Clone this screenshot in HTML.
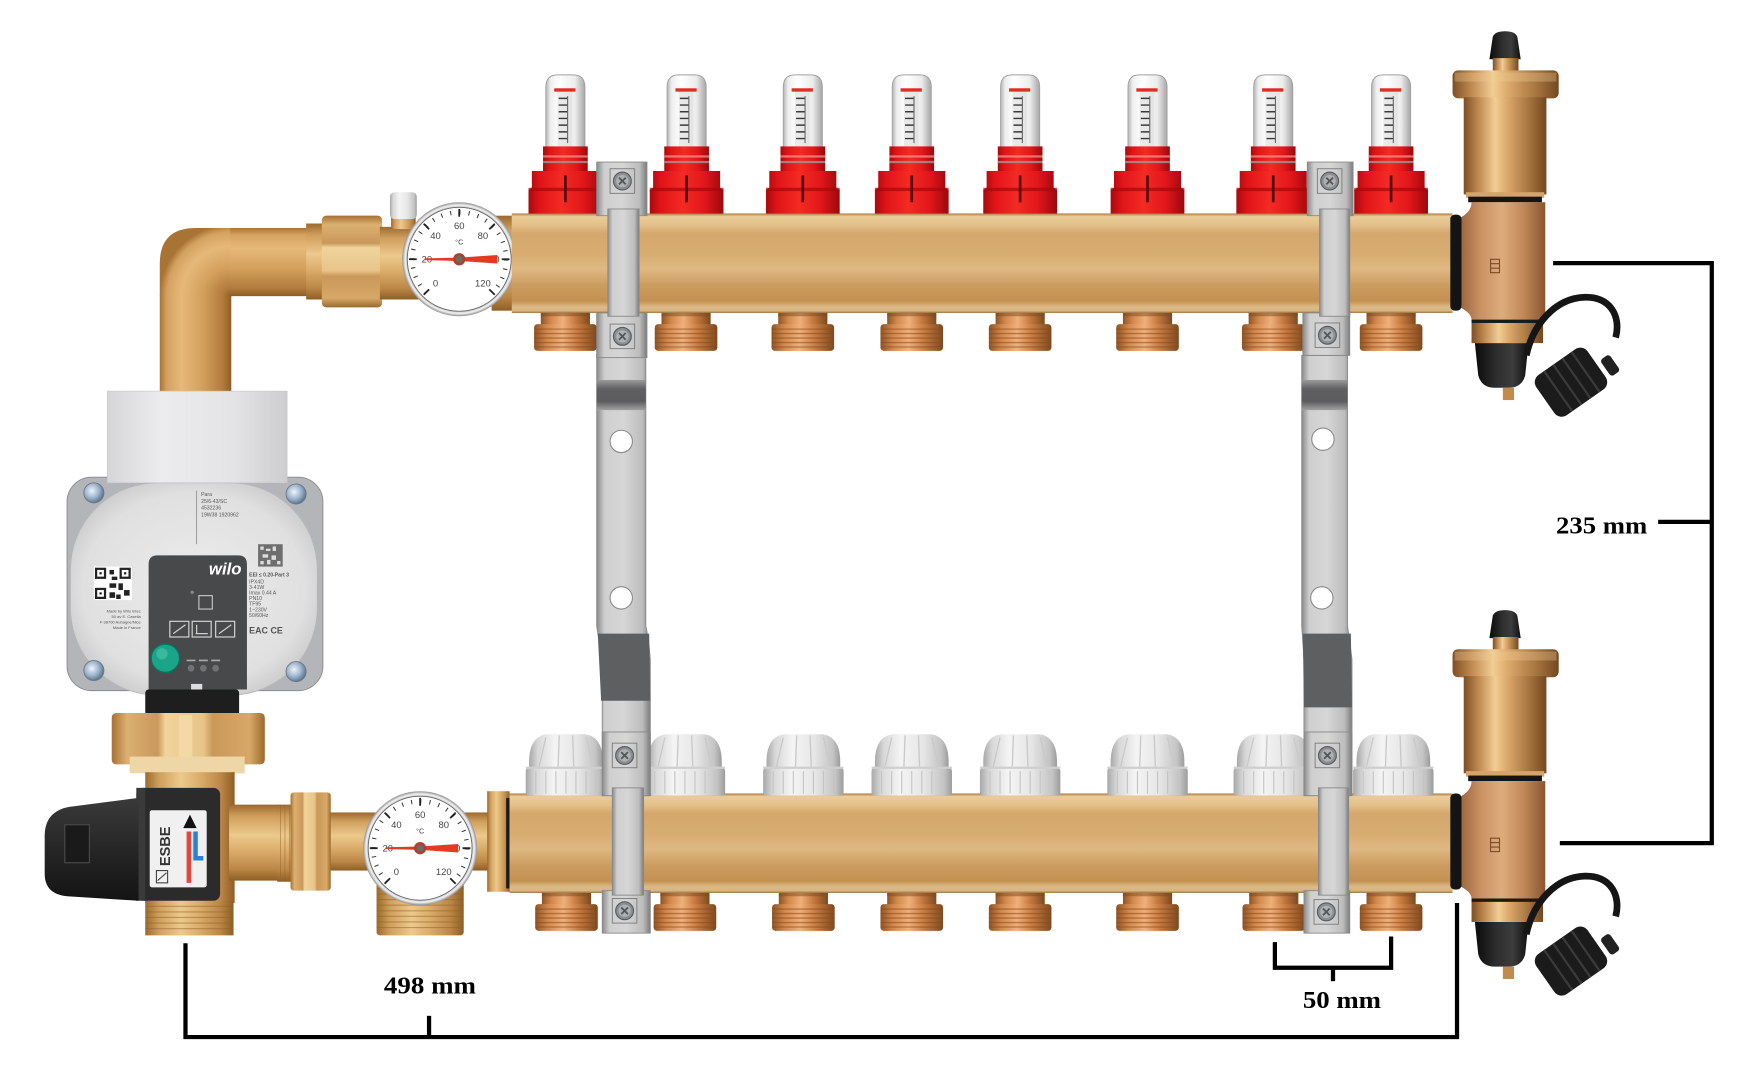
<!DOCTYPE html>
<html><head><meta charset="utf-8"><style>html,body{margin:0;padding:0;background:#fff;overflow:hidden}svg{display:block}</style></head>
<body>
<svg xmlns="http://www.w3.org/2000/svg" width="1752" height="1084" viewBox="0 0 1568 970" preserveAspectRatio="none">
<defs>
<linearGradient id="barG" x1="0" y1="0" x2="0" y2="1">
<stop offset="0" stop-color="#a9783e"/><stop offset="0.03" stop-color="#ebcd9a"/><stop offset="0.12" stop-color="#e3bf89"/><stop offset="0.2" stop-color="#d4a86c"/><stop offset="0.42" stop-color="#d8ad72"/><stop offset="0.56" stop-color="#dfb882"/><stop offset="0.72" stop-color="#cc9d60"/><stop offset="0.88" stop-color="#c39152"/><stop offset="0.94" stop-color="#dcbb88"/><stop offset="0.98" stop-color="#d8b480"/><stop offset="1" stop-color="#94682e"/>
</linearGradient>
<linearGradient id="redG" x1="0" y1="0" x2="1" y2="0">
<stop offset="0" stop-color="#a80a0e"/><stop offset="0.15" stop-color="#e01418"/><stop offset="0.45" stop-color="#f42a24"/><stop offset="0.75" stop-color="#e0161a"/><stop offset="1" stop-color="#9c080c"/>
</linearGradient>
<linearGradient id="tubeG" x1="0" y1="0" x2="1" y2="0">
<stop offset="0" stop-color="#b4b4b4"/><stop offset="0.12" stop-color="#eeeeee"/><stop offset="0.35" stop-color="#ffffff"/><stop offset="0.75" stop-color="#ececec"/><stop offset="1" stop-color="#a6a6a6"/>
</linearGradient>
<linearGradient id="outG" x1="0" y1="0" x2="1" y2="0">
<stop offset="0" stop-color="#8e5424"/><stop offset="0.2" stop-color="#d2884c"/><stop offset="0.45" stop-color="#f0b07a"/><stop offset="0.7" stop-color="#c67a40"/><stop offset="1" stop-color="#7e4a1e"/>
</linearGradient>
<linearGradient id="capG" x1="0" y1="0" x2="1" y2="0">
<stop offset="0" stop-color="#a8a8a8"/><stop offset="0.12" stop-color="#d8d8d8"/><stop offset="0.35" stop-color="#f4f4f4"/><stop offset="0.65" stop-color="#e6e6e6"/><stop offset="0.9" stop-color="#c4c4c4"/><stop offset="1" stop-color="#9c9c9c"/>
</linearGradient>
<linearGradient id="steelG" x1="0" y1="0" x2="1" y2="0">
<stop offset="0" stop-color="#8a8a8a"/><stop offset="0.15" stop-color="#cfcfcf"/><stop offset="0.5" stop-color="#d6d6d6"/><stop offset="0.85" stop-color="#bdbdbd"/><stop offset="1" stop-color="#7c7c7c"/>
</linearGradient>
<linearGradient id="darkG" x1="0" y1="0" x2="0" y2="1">
<stop offset="0" stop-color="#9a9a9a"/><stop offset="0.3" stop-color="#606062"/><stop offset="0.7" stop-color="#5c5c5e"/><stop offset="1" stop-color="#a0a0a0"/>
</linearGradient>
<linearGradient id="brassV" x1="0" y1="0" x2="0" y2="1">
<stop offset="0" stop-color="#9a6a2e"/><stop offset="0.15" stop-color="#cf9e5c"/><stop offset="0.4" stop-color="#ecc98c"/><stop offset="0.6" stop-color="#dcae6c"/><stop offset="0.85" stop-color="#bb8646"/><stop offset="1" stop-color="#8e5e24"/>
</linearGradient>
<linearGradient id="brassH" x1="0" y1="0" x2="1" y2="0">
<stop offset="0" stop-color="#9a6a2e"/><stop offset="0.15" stop-color="#cf9e5c"/><stop offset="0.4" stop-color="#ecc98c"/><stop offset="0.6" stop-color="#dcae6c"/><stop offset="0.85" stop-color="#bb8646"/><stop offset="1" stop-color="#8e5e24"/>
</linearGradient>
<linearGradient id="nutV" x1="0" y1="0" x2="0" y2="1">
<stop offset="0" stop-color="#a57236"/><stop offset="0.1" stop-color="#dcb070"/><stop offset="0.3" stop-color="#c9985a"/><stop offset="0.35" stop-color="#f0d49c"/><stop offset="0.6" stop-color="#e8c488"/><stop offset="0.66" stop-color="#c9985a"/><stop offset="0.9" stop-color="#d8a868"/><stop offset="1" stop-color="#9a6a2e"/>
</linearGradient>
<linearGradient id="nutH" x1="0" y1="0" x2="1" y2="0">
<stop offset="0" stop-color="#a57236"/><stop offset="0.1" stop-color="#dcb070"/><stop offset="0.3" stop-color="#c9985a"/><stop offset="0.35" stop-color="#f0d49c"/><stop offset="0.6" stop-color="#e8c488"/><stop offset="0.66" stop-color="#c9985a"/><stop offset="0.9" stop-color="#d8a868"/><stop offset="1" stop-color="#9a6a2e"/>
</linearGradient>
<linearGradient id="bronzeH" x1="0" y1="0" x2="1" y2="0">
<stop offset="0" stop-color="#94603a"/><stop offset="0.25" stop-color="#c99062"/><stop offset="0.5" stop-color="#deac7c"/><stop offset="0.75" stop-color="#c18858"/><stop offset="1" stop-color="#8a5630"/>
</linearGradient>
<linearGradient id="ventH" x1="0" y1="0" x2="1" y2="0">
<stop offset="0" stop-color="#7e4f24"/><stop offset="0.18" stop-color="#c08a52"/><stop offset="0.38" stop-color="#f2cd94"/><stop offset="0.52" stop-color="#dcaa6c"/><stop offset="0.78" stop-color="#a87640"/><stop offset="1" stop-color="#744820"/>
</linearGradient>
<linearGradient id="blackG" x1="0" y1="0" x2="1" y2="0">
<stop offset="0" stop-color="#0a0a0a"/><stop offset="0.4" stop-color="#2e2e2e"/><stop offset="0.7" stop-color="#3c3c3c"/><stop offset="1" stop-color="#101010"/>
</linearGradient>
<radialGradient id="bezel" cx="0.5" cy="0.5" r="0.5">
<stop offset="0" stop-color="#ffffff"/><stop offset="0.86" stop-color="#f6f6f6"/><stop offset="0.9" stop-color="#b5b5b5"/><stop offset="0.95" stop-color="#f2f2f2"/><stop offset="1" stop-color="#8e8e8e"/>
</radialGradient>
<radialGradient id="faceP" cx="0.5" cy="0.5" r="0.6">
<stop offset="0" stop-color="#ececec"/><stop offset="0.75" stop-color="#e0e0e0"/><stop offset="1" stop-color="#c4c4c4"/>
</radialGradient>
<linearGradient id="boxG" x1="0" y1="0" x2="1" y2="0">
<stop offset="0" stop-color="#d6d6d8"/><stop offset="0.3" stop-color="#ececee"/><stop offset="0.7" stop-color="#e4e4e6"/><stop offset="1" stop-color="#cdcdcf"/>
</linearGradient>
<radialGradient id="screwG" cx="0.4" cy="0.4" r="0.6">
<stop offset="0" stop-color="#eef4fa"/><stop offset="0.6" stop-color="#9bb3cc"/><stop offset="1" stop-color="#5e7890"/>
</radialGradient>
<linearGradient id="knobG" x1="0" y1="0" x2="0" y2="1">
<stop offset="0" stop-color="#3a3a3a"/><stop offset="0.5" stop-color="#262626"/><stop offset="1" stop-color="#141414"/>
</linearGradient>
<radialGradient id="elbR" gradientUnits="userSpaceOnUse" cx="207" cy="265" r="64">
<stop offset="0" stop-color="#8e5e26"/><stop offset="0.12" stop-color="#b27c3c"/><stop offset="0.4" stop-color="#d3a05c"/><stop offset="0.7" stop-color="#e6b978"/><stop offset="0.9" stop-color="#d4a260"/><stop offset="1" stop-color="#a87436"/>
</radialGradient>
<linearGradient id="elbV" gradientUnits="userSpaceOnUse" x1="207" y1="0" x2="143" y2="0">
<stop offset="0" stop-color="#8e5e26"/><stop offset="0.12" stop-color="#b27c3c"/><stop offset="0.4" stop-color="#d3a05c"/><stop offset="0.7" stop-color="#e6b978"/><stop offset="0.9" stop-color="#d4a260"/><stop offset="1" stop-color="#a87436"/>
</linearGradient>
<linearGradient id="elbH" gradientUnits="userSpaceOnUse" x1="0" y1="265" x2="0" y2="204">
<stop offset="0" stop-color="#8e5e26"/><stop offset="0.12" stop-color="#b27c3c"/><stop offset="0.4" stop-color="#d3a05c"/><stop offset="0.7" stop-color="#e6b978"/><stop offset="0.9" stop-color="#d4a260"/><stop offset="1" stop-color="#a87436"/>
</linearGradient>

<g id="fm">
 <path d="M-17.5,137 V78 Q-17.5,67 -7,67 H7 Q17.5,67 17.5,78 V137 Z" fill="url(#tubeG)" stroke="#a0a0a0" stroke-width="0.8"/>
 <rect x="-7" y="80" width="13" height="52" fill="#dcdcdc" opacity="0.6"/>
 <rect x="-10" y="79" width="19" height="3" fill="#e52a22"/>
 <path d="M-6,88 h8 M-6,94 h8 M-6,100 h8 M-6,106 h8 M-6,112 h8 M-6,118 h8 M-6,124 h8" stroke="#3a3a3a" stroke-width="1.3"/>
 <path d="M2,86 V128" stroke="#666" stroke-width="1"/>
 <rect x="-20" y="131" width="40" height="23" fill="url(#redG)"/>
 <rect x="-20" y="139" width="40" height="2" fill="#ff9a90" opacity="0.7"/>
 <rect x="-20" y="144" width="40" height="2" fill="#9a9a9a" opacity="0.8"/>
 <path d="M-30,153 H30 V168 L33,170 V191 H-33 V170 L-30,168 Z" fill="url(#redG)"/>
 <rect x="-33" y="168" width="66" height="3" fill="#a5080c" opacity="0.7"/>
 <rect x="-1.2" y="157" width="2.4" height="24" fill="#5a0505"/>
</g>
<g id="out">
 <rect x="-22" y="0" width="44" height="11" fill="url(#outG)"/>
 <rect x="-22" y="0" width="44" height="3" fill="#7a4a20" opacity="0.5"/>
 <rect x="-28" y="10" width="56" height="24" rx="3" fill="url(#outG)"/>
 <path d="M-28,14.5 H28 M-28,18.5 H28 M-28,22.5 H28 M-28,26.5 H28 M-28,30.5 H28" stroke="#8a4a1c" stroke-width="1.2" opacity="0.55"/>
</g>
<g id="cap">
 <path d="M-33,40 V26 Q-33,3 -17,1 H17 Q33,3 33,26 V40 Z" fill="url(#capG)"/>
 <path d="M-18,4 L-24,30 M-6,2 L-7,30 M6,2 L7,30 M18,4 L24,30" stroke="#c9c9c9" stroke-width="1.2" fill="none"/>
 <rect x="-36" y="31" width="72" height="25" rx="3" fill="url(#capG)"/>
 <path d="M-27,34 V54 M-18,34 V54 M-9,34 V54 M0,34 V54 M9,34 V54 M18,34 V54 M27,34 V54" stroke="#c4c4c4" stroke-width="1"/>
 <rect x="-36" y="30" width="72" height="2" fill="#cfcfcf"/>
</g>
<g id="screw">
 <rect x="-11" y="-11" width="22" height="22" fill="none" stroke="#7a7a7a" stroke-width="0.8"/>
 <circle r="8" fill="#8b8d90" stroke="#5a5a5a" stroke-width="1"/>
 <circle r="5.5" fill="#aeb0b3"/>
 <path d="M-3,-3 L3,3 M-3,3 L3,-3" stroke="#555" stroke-width="1.6"/>
</g>
<g id="rt">
 <path d="M1333,53 L1336,33 Q1338,28 1347,28 Q1356,28 1358,33 L1361,53 Z" fill="url(#blackG)"/>
 <rect x="1336" y="52" width="23" height="12" fill="url(#ventH)"/>
 <rect x="1300" y="63" width="95" height="25" rx="5" fill="url(#ventH)"/>
 <rect x="1302" y="65" width="91" height="8" fill="#f0cc96" opacity="0.35"/>
 <rect x="1310" y="87" width="74" height="87" fill="url(#ventH)"/>
 <rect x="1312" y="172" width="70" height="5" fill="#d6a468"/>
 <rect x="1314" y="176" width="66" height="5" fill="#141414"/>
 <path d="M1305,196 Q1317,190 1317,181 H1383 V286 H1317 Q1317,280 1305,274 Z" fill="url(#bronzeH)"/>
 <rect x="1298" y="192" width="10" height="86" rx="4" fill="#141414"/>
 <path d="M1334,232 h8 v12 h-8 z M1334,236 h8 M1334,240 h8" stroke="#7a4c28" stroke-width="1" fill="none"/>
 <rect x="1317" y="286" width="64" height="21" fill="url(#ventH)"/>
 <rect x="1317" y="286" width="64" height="3" fill="#1a1a1a"/>
 <path d="M1320,307 H1368 L1365,336 Q1362,347 1350,347 H1338 Q1326,347 1323,336 Z" fill="url(#blackG)"/>
 <rect x="1345" y="347" width="10" height="11" fill="#c48a4c"/>
 <path d="M1366,318 C1372,290 1392,267 1418,266 C1441,265 1451,283 1446,302" fill="none" stroke="#151515" stroke-width="6"/>
 <g transform="translate(1406,342) rotate(-35)">
  <rect x="-28" y="-22" width="56" height="44" rx="8" fill="#1b1b1b"/>
  <path d="M-14,-22 V22 M-4,-22 V22 M6,-22 V22 M16,-22 V22" stroke="#3a3a3a" stroke-width="2"/>
 </g>
 <rect x="1436" y="318" width="10" height="18" rx="3" fill="#222" transform="rotate(-35 1441 327)"/>
</g>
</defs>

<rect x="0" y="0" width="1568" height="970" fill="#ffffff"/>

<!-- LEFT ELBOW + TOP SUPPLY -->
<rect x="143" y="264" width="64" height="88" fill="url(#elbV)"/>
<path d="M143,265 L143,236 Q143,204 175,204 L207,204 L207,265 Z" fill="url(#elbR)"/>
<rect x="206" y="204" width="72" height="61" fill="url(#elbH)"/>
<rect x="274" y="200" width="18" height="68" fill="url(#brassV)"/>
<rect x="288" y="193" width="54" height="82" rx="4" fill="url(#nutV)"/>
<rect x="340" y="203" width="102" height="65" fill="url(#brassV)"/>
<rect x="350" y="193" width="22" height="12" fill="url(#brassH)"/>
<rect x="349" y="172" width="24" height="24" rx="4" fill="url(#capG)"/>
<rect x="440" y="193" width="20" height="85" fill="url(#brassV)"/>

<!-- TOP GAUGE -->
<g transform="translate(411,232)">
 <circle r="51" fill="url(#bezel)"/>
 <circle r="46.5" fill="#fff" stroke="#666" stroke-width="0.8"/>
 <circle r="42" fill="none" stroke="#333" stroke-width="4" stroke-dasharray="0.9 7.3467" transform="rotate(135)"/>
 <path d="M0,0 L32.5,32.5 A46,46 0 0 1 -32.5,32.5 Z" fill="#fff"/>
 <path d="M-26.9,26.9 L-31.8,31.8 M-38,0 L-45,0 M-26.9,-26.9 L-31.8,-31.8 M0,-38 L0,-45 M26.9,-26.9 L31.8,-31.8 M38,0 L45,0 M26.9,26.9 L31.8,31.8" stroke="#222" stroke-width="1.6"/>
 <g font-family="Liberation Sans, sans-serif" font-size="8.5" fill="#444" text-anchor="middle">
  <text x="-21.2" y="24.2">0</text><text x="-29" y="3">20</text><text x="-21.2" y="-18.2">40</text><text x="0" y="-27">60</text><text x="21.2" y="-18.2">80</text><text x="29" y="3">100</text><text x="21.2" y="24.2">120</text>
  <text x="0" y="-13" font-size="6.5">°C</text>
 </g>
 <polygon points="-31,-0.8 0,-1.5 34,-3.8 34,3.8 0,1.5 -31,0.8" fill="#e33a22"/>
 <circle r="5.5" fill="#a8432f"/><circle r="3" fill="#6b6b6b"/>
</g>

<!-- PUMP -->
<rect x="60" y="427" width="229" height="191" rx="22" fill="#b4b5b8" stroke="#8a8a8a" stroke-width="0.8"/>
<rect x="63" y="432" width="221" height="190" rx="78" fill="url(#faceP)" stroke="#b8b8b8" stroke-width="0.8"/>
<rect x="96" y="350" width="161" height="82" fill="url(#boxG)" stroke="#c8c8ca" stroke-width="0.6"/>
<circle cx="84" cy="441" r="9" fill="url(#screwG)" stroke="#6a7888" stroke-width="0.8"/>
<circle cx="265" cy="442" r="9" fill="url(#screwG)" stroke="#6a7888" stroke-width="0.8"/>
<circle cx="84" cy="600" r="9" fill="url(#screwG)" stroke="#6a7888" stroke-width="0.8"/>
<circle cx="265" cy="601" r="9" fill="url(#screwG)" stroke="#6a7888" stroke-width="0.8"/>
<path d="M176,439 V487" stroke="#888" stroke-width="0.7"/>
<g font-family="Liberation Sans, sans-serif" font-size="4.6" fill="#555">
 <text x="180" y="444">Para</text><text x="180" y="450">25/6-43/SC</text><text x="180" y="456">4532236</text><text x="180" y="462">19W38 1920962</text>
 <text x="223" y="516" font-weight="bold">EEI ≤ 0.20-Part 3</text>
 <text x="223" y="522">IPX4D</text><text x="223" y="527">3-41W</text><text x="223" y="532">Imax 0.44 A</text><text x="223" y="537">PN10</text><text x="223" y="542">TF95</text><text x="223" y="547">1~230V</text><text x="223" y="552">50/60Hz</text>
 <text x="223" y="567" font-size="8" font-weight="bold">EAC CE</text>
 <g text-anchor="end" font-size="3.6"><text x="126" y="548">Made by Wilo Intec</text><text x="126" y="553">50 av E. Casella</text><text x="126" y="558">F-38700 Aubagne/Nice</text><text x="126" y="563">Made in France</text></g>
</g>
<rect x="84" y="507" width="34" height="30" fill="#fff"/>
<g fill="#222">
 <rect x="85" y="508" width="10" height="10"/><rect x="107" y="508" width="10" height="10"/><rect x="85" y="526" width="10" height="10"/>
 <rect x="98" y="510" width="4" height="4"/><rect x="100" y="516" width="5" height="3"/><rect x="98" y="522" width="6" height="4"/><rect x="106" y="522" width="4" height="6"/><rect x="111" y="528" width="5" height="5"/><rect x="98" y="530" width="5" height="5"/><rect x="104" y="532" width="4" height="4"/>
</g>
<g fill="#fff"><rect x="87" y="510" width="6" height="6"/><rect x="109" y="510" width="6" height="6"/><rect x="87" y="528" width="6" height="6"/></g>
<g fill="#222"><rect x="89" y="512" width="2" height="2"/><rect x="111" y="512" width="2" height="2"/><rect x="89" y="530" width="2" height="2"/></g>
<rect x="231" y="487" width="22" height="20" fill="#6e6e6e"/>
<g fill="#ddd"><rect x="233" y="489" width="3" height="3"/><rect x="238" y="491" width="4" height="2"/><rect x="244" y="489" width="3" height="4"/><rect x="235" y="496" width="5" height="3"/><rect x="243" y="497" width="4" height="4"/><rect x="233" y="502" width="3" height="3"/><rect x="239" y="501" width="3" height="4"/><rect x="248" y="502" width="3" height="3"/></g>
<path d="M133,505 Q133,497 141,497 L213,497 Q221,497 221,505 L221,617 L133,617 Z" fill="#47494b"/>
<text x="187" y="514" font-family="Liberation Sans, sans-serif" font-style="italic" font-weight="bold" font-size="15" fill="#fff">wilo</text>
<rect x="178" y="533" width="12" height="12" fill="none" stroke="#c8c8c8" stroke-width="1"/>
<circle cx="172" cy="530" r="1.5" fill="#888"/>
<g fill="none" stroke="#cfcfcf" stroke-width="1.1">
 <rect x="152" y="556" width="17" height="14"/><rect x="172" y="556" width="17" height="14"/><rect x="193" y="556" width="17" height="14"/>
 <path d="M155,567 L166,559 M175,567 H186 M176,559 V567 M196,567 L207,559"/>
</g>
<circle cx="148" cy="589" r="12.7" fill="#1aa58a" stroke="#0e6f5c" stroke-width="1.2"/>
<circle cx="145" cy="585" r="5" fill="#4cc4aa" opacity="0.6"/>
<g fill="#707274"><circle cx="171" cy="598" r="3"/><circle cx="182" cy="598" r="3"/><circle cx="193" cy="598" r="3"/></g>
<path d="M167,591 h8 M178,591 h8 M189,591 h8" stroke="#aaa" stroke-width="1.5"/>
<rect x="171" y="612" width="10" height="5" fill="#dcdcdc"/>

<!-- BELOW PUMP / MIXING VALVE -->
<rect x="130" y="617" width="84" height="23" rx="3" fill="#1e1e1e"/>
<rect x="100" y="638" width="137" height="46" rx="4" fill="url(#nutH)"/>
<rect x="160" y="640" width="12" height="43" fill="#f5dcaa" opacity="0.8"/>
<rect x="116" y="677" width="103" height="15" fill="#eed6a6"/>
<rect x="130" y="691" width="80" height="117" fill="url(#brassH)"/>
<rect x="205" y="720" width="45" height="68" fill="url(#brassV)"/>
<rect x="130" y="806" width="79" height="31" fill="url(#brassH)"/>
<path d="M130,811 H209 M130,816 H209 M130,821 H209 M130,826 H209 M130,831 H209" stroke="#8e6226" stroke-width="1" opacity="0.5"/>
<rect x="122" y="705" width="75" height="101" rx="6" fill="#2b2b2b"/>
<rect x="122" y="705" width="8" height="101" fill="#3a3a3a"/>
<path d="M124,714 L62,722 Q40,726 40,748 L40,782 Q40,800 60,802 L124,806 Z" fill="url(#knobG)"/>
<rect x="58" y="738" width="22" height="34" fill="#1a1a1a" stroke="#4a4a4a" stroke-width="1"/>
<rect x="134" y="725" width="51" height="69" rx="2" fill="#f0f0f0"/>
<text transform="translate(152,775) rotate(-90)" font-family="Liberation Sans, sans-serif" font-weight="bold" font-size="13" fill="#333">ESBE</text>
<rect x="140" y="779" width="10" height="11" fill="none" stroke="#444" stroke-width="1"/>
<path d="M141,788 L149,781" stroke="#444" stroke-width="1"/>
<polygon points="170,729 164,741 176,741" fill="#111"/>
<path d="M169,744 V790" stroke="#e2463c" stroke-width="4"/>
<path d="M175,744 V768 H182" stroke="#2a80d2" stroke-width="4" fill="none"/>

<!-- BOTTOM SUPPLY PIPE -->
<rect x="248" y="727" width="192" height="52" fill="url(#brassV)"/>
<rect x="248" y="720" width="14" height="69" fill="url(#brassV)"/>
<path d="M251,720 V789 M255,720 V789 M259,720 V789" stroke="#8e6226" stroke-width="0.8" opacity="0.5"/>
<rect x="260" y="709" width="36" height="88" rx="3" fill="url(#nutH)"/>
<rect x="337" y="788" width="78" height="49" rx="3" fill="url(#brassH)"/>
<path d="M337,795 H415 M337,800 H415 M337,805 H415 M337,810 H415 M337,815 H415 M337,820 H415 M337,825 H415 M337,830 H415" stroke="#8e6226" stroke-width="1" opacity="0.5"/>
<rect x="436" y="708" width="20" height="90" fill="url(#brassH)"/>
<rect x="453" y="714" width="6" height="81" fill="#1a1a1a"/>

<!-- BOTTOM GAUGE -->
<g transform="translate(376,759)">
 <circle r="51" fill="url(#bezel)"/>
 <circle r="46.5" fill="#fff" stroke="#666" stroke-width="0.8"/>
 <circle r="42" fill="none" stroke="#333" stroke-width="4" stroke-dasharray="0.9 7.3467" transform="rotate(135)"/>
 <path d="M0,0 L32.5,32.5 A46,46 0 0 1 -32.5,32.5 Z" fill="#fff"/>
 <path d="M-26.9,26.9 L-31.8,31.8 M-38,0 L-45,0 M-26.9,-26.9 L-31.8,-31.8 M0,-38 L0,-45 M26.9,-26.9 L31.8,-31.8 M38,0 L45,0 M26.9,26.9 L31.8,31.8" stroke="#222" stroke-width="1.6"/>
 <g font-family="Liberation Sans, sans-serif" font-size="8.5" fill="#444" text-anchor="middle">
  <text x="-21.2" y="24.2">0</text><text x="-29" y="3">20</text><text x="-21.2" y="-18.2">40</text><text x="0" y="-27">60</text><text x="21.2" y="-18.2">80</text><text x="29" y="3">100</text><text x="21.2" y="24.2">120</text>
  <text x="0" y="-13" font-size="6.5">°C</text>
 </g>
 <polygon points="-31,-0.8 0,-1.5 34,-3.8 34,3.8 0,1.5 -31,0.8" fill="#e33a22"/>
 <circle r="5.5" fill="#a8432f"/><circle r="3" fill="#6b6b6b"/>
</g>

<!-- MANIFOLD BARS -->
<rect x="458" y="191" width="842" height="89" fill="url(#barG)"/>
<rect x="456" y="710" width="844" height="89" fill="url(#barG)"/>

<!-- FLOWMETERS -->
<use href="#fm" x="506"/><use href="#fm" x="614.5"/><use href="#fm" x="718.5"/><use href="#fm" x="816"/>
<use href="#fm" x="913"/><use href="#fm" x="1027"/><use href="#fm" x="1139.5"/><use href="#fm" x="1245"/>

<!-- TOP OUTLETS -->
<use href="#out" x="506" y="280"/><use href="#out" x="614" y="280"/><use href="#out" x="718.5" y="280"/><use href="#out" x="816" y="280"/>
<use href="#out" x="913" y="280"/><use href="#out" x="1027" y="280"/><use href="#out" x="1139.5" y="280"/><use href="#out" x="1245" y="280"/>

<!-- WHITE CAPS -->
<use href="#cap" x="506.5" y="656"/><use href="#cap" x="613" y="656"/><use href="#cap" x="719" y="656"/><use href="#cap" x="816" y="656"/>
<use href="#cap" x="913" y="656"/><use href="#cap" x="1027" y="656"/><use href="#cap" x="1140" y="656"/><use href="#cap" x="1247" y="656"/>

<!-- BOTTOM OUTLETS -->
<use href="#out" x="507" y="799"/><use href="#out" x="613" y="799"/><use href="#out" x="719" y="799"/><use href="#out" x="816" y="799"/>
<use href="#out" x="913" y="799"/><use href="#out" x="1027" y="799"/><use href="#out" x="1140" y="799"/><use href="#out" x="1245" y="799"/>

<!-- LEFT BRACKET -->
<path d="M534,318 H578 V560 Q581,574 582,590 V712 H539 V590 Q536,574 534,560 Z" fill="url(#steelG)" stroke="#8a8a8a" stroke-width="0.8"/>
<rect x="534" y="340" width="44" height="27" fill="url(#darkG)"/>
<path d="M535,567 H581 L582,627 H538 Z" fill="#5e5f61"/>
<circle cx="556" cy="395" r="10" fill="#fff" stroke="#8a8a8a"/>
<circle cx="556" cy="535" r="10" fill="#fff" stroke="#8a8a8a"/>
<rect x="534" y="145" width="45" height="48" fill="url(#steelG)" stroke="#8a8a8a" stroke-width="0.8"/>
<use href="#screw" x="557" y="162"/>
<rect x="534" y="280" width="45" height="40" fill="url(#steelG)" stroke="#888" stroke-width="0.8"/>
<use href="#screw" x="557" y="301"/>
<rect x="544" y="187" width="28" height="96" fill="url(#steelG)" stroke="#888" stroke-width="0.8"/>
<rect x="539" y="655" width="43" height="57" fill="url(#steelG)" stroke="#888" stroke-width="0.8"/>
<use href="#screw" x="559" y="676"/>
<rect x="539" y="797" width="43" height="38" fill="url(#steelG)" stroke="#888" stroke-width="0.8"/>
<use href="#screw" x="559" y="815"/>
<rect x="548" y="705" width="28" height="96" fill="url(#steelG)" stroke="#888" stroke-width="0.8"/>

<!-- RIGHT BRACKET -->
<path d="M1165,318 H1206 V560 Q1208,574 1210,590 V712 H1167 V590 Q1166,574 1165,560 Z" fill="url(#steelG)" stroke="#8a8a8a" stroke-width="0.8"/>
<rect x="1165" y="340" width="41" height="27" fill="url(#darkG)"/>
<path d="M1166,567 H1209 L1210,633 H1167 Z" fill="#5e5f61"/>
<circle cx="1184" cy="393" r="10" fill="#fff" stroke="#8a8a8a"/>
<circle cx="1183" cy="535" r="10" fill="#fff" stroke="#8a8a8a"/>
<rect x="1170" y="145" width="41" height="48" fill="url(#steelG)" stroke="#8a8a8a" stroke-width="0.8"/>
<use href="#screw" x="1190" y="162"/>
<rect x="1166" y="280" width="42" height="38" fill="url(#steelG)" stroke="#888" stroke-width="0.8"/>
<use href="#screw" x="1188" y="300"/>
<rect x="1181" y="187" width="27" height="96" fill="url(#steelG)" stroke="#888" stroke-width="0.8"/>
<rect x="1167" y="655" width="43" height="57" fill="url(#steelG)" stroke="#888" stroke-width="0.8"/>
<use href="#screw" x="1188" y="676"/>
<rect x="1167" y="797" width="41" height="38" fill="url(#steelG)" stroke="#888" stroke-width="0.8"/>
<use href="#screw" x="1187" y="816"/>
<rect x="1180" y="705" width="27" height="96" fill="url(#steelG)" stroke="#888" stroke-width="0.8"/>

<!-- RIGHT FITTINGS -->
<use href="#rt"/>
<use href="#rt" y="518"/>

<!-- DIMENSION LINES -->
<g fill="none" stroke="#000" stroke-width="3.8" stroke-linecap="butt" stroke-linejoin="miter">
 <path d="M1390,235.5 H1532 V754.5 H1396"/>
 <path d="M1484,467 H1532"/>
 <path d="M166,844 V928 H1304 V808"/>
 <path d="M384,909 V928"/>
 <path d="M1141,843 V866 H1245 V838"/>
 <path d="M1193,866 V878"/>
</g>
<g font-family="Liberation Serif, serif" font-weight="bold" font-size="22" fill="#000">
 <text x="1392.6" y="477.3" textLength="81.7" lengthAdjust="spacingAndGlyphs">235 mm</text>
 <text x="343.6" y="889" textLength="82.4" lengthAdjust="spacingAndGlyphs">498 mm</text>
 <text x="1166" y="902" textLength="70" lengthAdjust="spacingAndGlyphs">50 mm</text>
</g>
</svg>
</body></html>
